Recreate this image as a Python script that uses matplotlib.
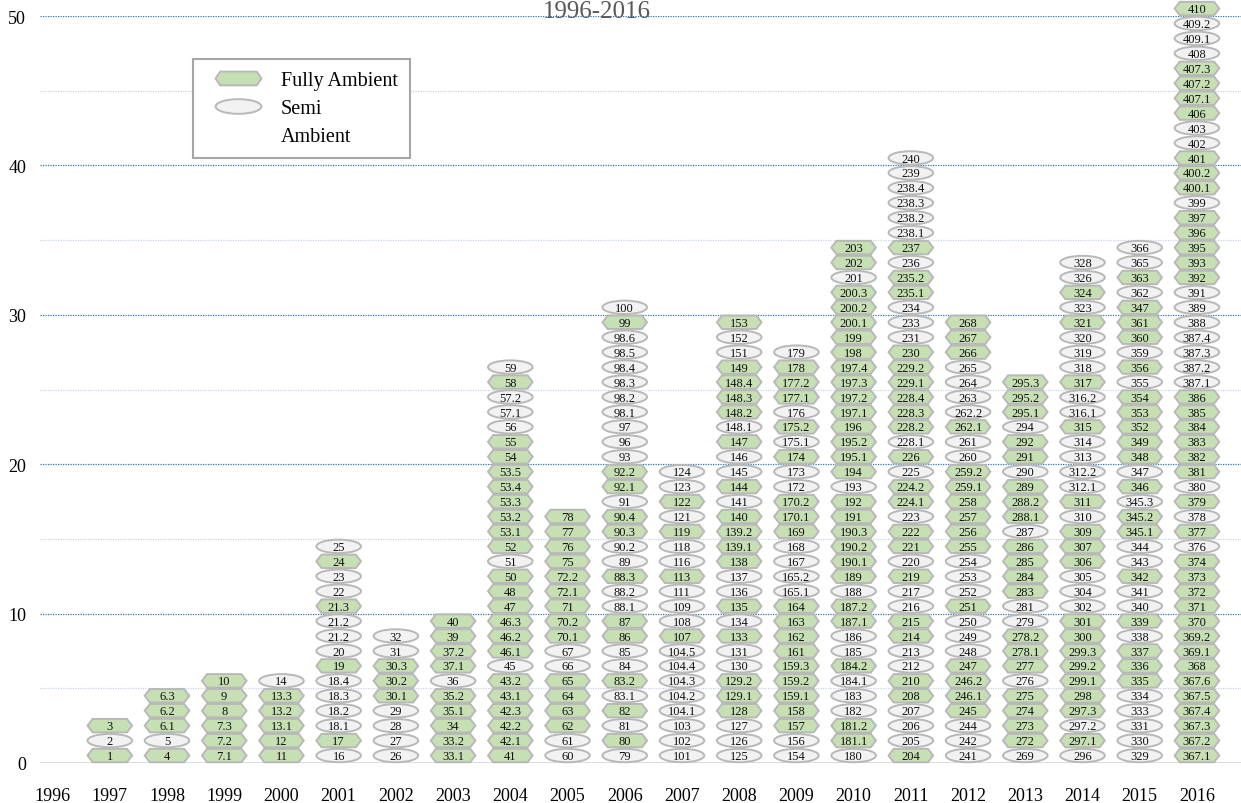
import numpy as np
import matplotlib.pyplot as plt
from matplotlib.patches import Ellipse, Polygon
from matplotlib.path import Path
from matplotlib.transforms import Affine2D
from matplotlib.lines import Line2D

## Data
years = list(range(1996, 2017))

# token labels per year, bottom to top (1996 is empty)
labels = [
    "",
    "1 2 3",
    "4 5 6.1 6.2 6.3",
    "7.1 7.2 7.3 8 9 10",
    "11 12 13.1 13.2 13.3 14",
    "16 17 18.1 18.2 18.3 18.4 19 20 21.2 21.2 21.3 22 23 24 25",
    "26 27 28 29 30.1 30.2 30.3 31 32",
    "33.1 33.2 34 35.1 35.2 36 37.1 37.2 39 40",
    "41 42.1 42.2 42.3 43.1 43.2 45 46.1 46.2 46.3 47 48 50 51 52 53.1 53.2 53.3 53.4 53.5 54 55 56 57.1 57.2 58 59",
    "60 61 62 63 64 65 66 67 70.1 70.2 71 72.1 72.2 75 76 77 78",
    "79 80 81 82 83.1 83.2 84 85 86 87 88.1 88.2 88.3 89 90.2 90.3 90.4 91 92.1 92.2 93 96 97 98.1 98.2 98.3 98.4 98.5 98.6 99 100",
    "101 102 103 104.1 104.2 104.3 104.4 104.5 107 108 109 111 113 116 118 119 121 122 123 124",
    "125 126 127 128 129.1 129.2 130 131 133 134 135 136 137 138 139.1 139.2 140 141 144 145 146 147 148.1 148.2 148.3 148.4 149 151 152 153",
    "154 156 157 158 159.1 159.2 159.3 161 162 163 164 165.1 165.2 167 168 169 170.1 170.2 172 173 174 175.1 175.2 176 177.1 177.2 178 179",
    "180 181.1 181.2 182 183 184.1 184.2 185 186 187.1 187.2 188 189 190.1 190.2 190.3 191 192 193 194 195.1 195.2 196 197.1 197.2 197.3 197.4 198 199 200.1 200.2 200.3 201 202 203",
    "204 205 206 207 208 210 212 213 214 215 216 217 219 220 221 222 223 224.1 224.2 225 226 228.1 228.2 228.3 228.4 229.1 229.2 230 231 233 234 235.1 235.2 236 237 238.1 238.2 238.3 238.4 239 240",
    "241 242 244 245 246.1 246.2 247 248 249 250 251 252 253 254 255 256 257 258 259.1 259.2 260 261 262.1 262.2 263 264 265 266 267 268",
    "269 272 273 274 275 276 277 278.1 278.2 279 281 283 284 285 286 287 288.1 288.2 289 290 291 292 294 295.1 295.2 295.3",
    "296 297.1 297.2 297.3 298 299.1 299.2 299.3 300 301 302 304 305 306 307 309 310 311 312.1 312.2 313 314 315 316.1 316.2 317 318 319 320 321 323 324 326 328",
    "329 330 331 333 334 335 336 337 338 339 340 341 342 343 344 345.1 345.2 345.3 346 347 348 349 352 353 354 355 356 359 360 361 347 362 363 365 366",
    "367.1 367.2 367.3 367.4 367.5 367.6 368 369.1 369.2 370 371 372 373 374 376 377 378 379 380 381 382 383 384 385 386 387.1 387.2 387.3 387.4 388 389 391 392 393 395 396 397 399 400.1 400.2 401 402 403 406 407.1 407.2 407.3 408 409.1 409.2 410",
]

# F = Fully Ambient (hexagon), S = Semi Ambient (ellipse)
kinds = [
    "",
    "FSF",
    "FSFFF",
    "FFFFFF",
    "FFFFFS",
    "SFSSSSFSSSFSSFS",
    "SSSSFFFSS",
    "FFFFFSFFFF",
    "FFFFFFSFFFFFFSFFFFFFFFSSSFS",
    "SSFFFFSSFFFFFFFFF",
    "SFSFSFSSFFSSFSSFFSFFSSSSSSSSSFS",
    "SSSSSSSSFSSSFSSFSFSS",
    "SSSFFFSSFSFSSFFFFSFSSFSFFFFSSF",
    "SSFFFFFFFFFSSSSFFFSSFSFSFFFS",
    "SFFSSSFSSFFSFFFFFFSFFFFFFFFFFFFFSFF",
    "FSSSFFSSFFSSFSFFSFFSFSFFFFFFSSSFFSFSSSSSS",
    "SSSFFFFSSSFSSSFFFFFFSSFSSSSFFF",
    "SFFFFSFFFSSFFFFSFFFSFFSFFF",
    "SFSFFFFFFFSSSFFFSFSSSSFSSFSSSFSFSS",
    "SSSSSFFFSFSSFSSFFSFSFFFFFSFSFFFSFSS",
    "FFFFFFFFFFFFFFSFSFSFFFFFFSSSSSSSFFFFFSFFFSSFFFFSSSF",
]

yticks = [0, 10, 20, 30, 40, 50]

green = "#c6e0b4"
light = "#f2f2f2"
edge = "#b8b8b8"
serif = "Liberation Serif"

## Figure
fig = plt.figure(figsize=(12.41, 8.04), dpi=100)
ax = fig.add_axes([40 / 1241, 1 - 764 / 804, 1 - 40 / 1241, (764 - 17) / 804])

# token half width / half height / hexagon tip (data units)
hw, hh, tip = 0.39, 0.45, 0.09
for year, lab, kind in zip(years, labels, kinds):
    for i, (t, k) in enumerate(zip(lab.split(), kind)):
        yc = i + 0.5
        if k == "F":
            verts = [(year - hw, yc), (year - hw + tip, yc + hh), (year + hw - tip, yc + hh),
                     (year + hw, yc), (year + hw - tip, yc - hh), (year - hw + tip, yc - hh)]
            p = Polygon(verts, closed=True, fc=green, ec=edge, lw=1.4, clip_on=False, zorder=3)
        else:
            p = Ellipse((year, yc), 2 * hw, 2 * hh, fc=light, ec=edge, lw=1.4, clip_on=False, zorder=3)
        ax.add_patch(p)
        ax.text(year, yc - 0.04, t, ha="center", va="center", fontsize=9, family=serif,
                color="#111111", clip_on=False, zorder=4)

ax.set_xlim(1995.78, 2016.77)
ax.set_ylim(0, 50)
ax.set_xticks(years)
ax.set_xticklabels([str(y) for y in years], family=serif, fontsize=13)
ax.set_yticks(yticks)
ax.set_yticklabels([str(v) for v in yticks], family=serif, fontsize=13)
ax.set_yticks(np.arange(5, 50, 10), minor=True)
ax.tick_params(axis="both", which="both", length=0)
ax.tick_params(axis="x", pad=17)
ax.tick_params(axis="y", pad=10)
for s in ax.spines.values():
    s.set_visible(False)

ax.set_axisbelow(True)
ax.grid(axis="y", which="major", color="#2e75b6", linestyle=(0, (1, 1)), lw=0.9)
ax.grid(axis="y", which="minor", color="#c9d3e8", linestyle=(0, (1, 1)), lw=0.9)
ax.axhline(0, color="#d9d9d9", lw=2, zorder=2)

# title at the top edge
fig.text(597 / 1241, 1 - 1 / 804, "1996-2016", ha="center", va="top",
         fontsize=18, family=serif, color="#595959")

# legend
hex_path = Path([(-1, 0), (-0.8, 0.3), (0.8, 0.3), (1, 0), (0.8, -0.3), (-0.8, -0.3), (-1, 0)],
                [Path.MOVETO] + [Path.LINETO] * 5 + [Path.CLOSEPOLY])
ell_path = Affine2D().scale(1, 0.32).transform_path(Path.unit_circle())
handles = [
    Line2D([], [], linestyle="none", marker=hex_path, markersize=33,
           markerfacecolor=green, markeredgecolor=edge, markeredgewidth=1.4),
    Line2D([], [], linestyle="none", marker=ell_path, markersize=33,
           markerfacecolor=light, markeredgecolor=edge, markeredgewidth=1.4),
    Line2D([], [], linestyle="none"),
]
leg = ax.legend(handles, ["Fully Ambient", "Semi", "Ambient"], loc="upper left",
                bbox_to_anchor=(193 / 1241, 1 - 60 / 804), bbox_transform=fig.transFigure,
                borderaxespad=0, borderpad=0.6, handlelength=3.3, handletextpad=0.45,
                labelspacing=0.43, fancybox=False, framealpha=1,
                prop={"family": serif, "size": 14.5})
leg.get_frame().set_edgecolor("#a6a6a6")
leg.get_frame().set_linewidth(1.5)

fig.savefig("out.png", dpi=100)
